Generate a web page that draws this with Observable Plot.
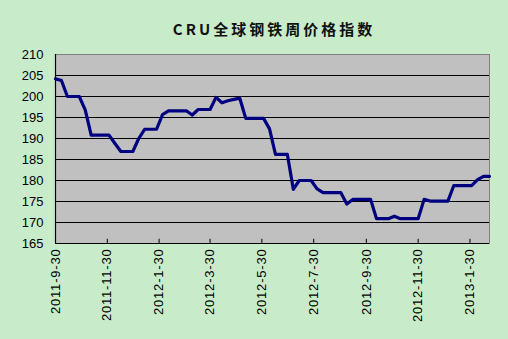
<!DOCTYPE html>
<html><head><meta charset="utf-8">
<script src="https://cdn.jsdelivr.net/npm/d3@7"></script>
<script src="https://cdn.jsdelivr.net/npm/@observablehq/plot@0.6"></script>
<style>
html,body{margin:0;padding:0;background:#c8ecca;}
#wrap{position:relative;width:508px;height:339px;background:#c8ecca;overflow:hidden;}
#title{position:absolute;left:40px;top:0;width:468px;height:40px;line-height:57px;text-align:center;
 font-family:"Noto Sans CJK SC",sans-serif;font-weight:bold;font-size:15px;letter-spacing:3px;color:#111;}
#chart{position:absolute;left:0;top:40px;}
#chart g[aria-label="x-axis tick label"] text{letter-spacing:0.8px;}
</style>
</head><body>
<div id="wrap"><div id="title">CRU全球钢铁周价格指数</div><div id="chart"></div></div>
<script>
const title = "CRU全球钢铁周价格指数";
const startDate = "2011-9-30";
const endDate = "2013-2-22";
const weeklyIndex = [
 204.2,203.8,200.0,200.0,200.0,196.8,190.8,190.8,190.8,190.8,
 188.8,186.9,186.9,186.9,190.0,192.2,192.2,192.2,195.7,196.6,
 196.6,196.6,196.6,195.6,196.9,196.9,196.9,199.8,198.5,199.0,
 199.3,199.6,194.8,194.8,194.8,194.8,192.3,186.2,186.2,186.2,
 177.9,180.0,180.0,180.0,178.0,177.1,177.1,177.1,177.1,174.4,
 175.5,175.5,175.5,175.5,170.9,170.9,170.9,171.5,170.9,170.9,
 170.9,170.9,175.5,175.1,175.1,175.1,175.1,178.8,178.8,178.8,
 178.8,180.2,181.0,181.0
];
const xTickLabels = ["2011-9-30","2011-11-30","2012-1-30","2012-3-30","2012-5-30","2012-7-30","2012-9-30","2012-11-30","2013-1-30"];
const yTicks = [165,170,175,180,185,190,195,200,205,210];

const parse = s => { const [y,m,d] = s.split("-").map(Number); return new Date(Date.UTC(y, m-1, d)); };
const fmt = d => `${d.getUTCFullYear()}-${d.getUTCMonth()+1}-${d.getUTCDate()}`;
const start = parse(startDate);
const data = weeklyIndex.map((v,i) => ({date: d3.utcDay.offset(start, 7*i), value: v}));
const xTicks = xTickLabels.map(parse);
const grid = yTicks.filter(v => v > 165 && v < 210);

const chart = Plot.plot({
  width: 508, height: 299,
  marginLeft: 55, marginRight: 19, marginTop: 14, marginBottom: 96,
  style: {background: "transparent", fontFamily: "'Liberation Sans', Arial, sans-serif", fontSize: "13px", color: "#000"},
  x: {type: "utc", domain: [start, parse(endDate)]},
  y: {domain: [165, 210]},
  marks: [
    Plot.frame({fill: "#c0c0c0", stroke: "#808080"}),
    Plot.ruleY(grid, {stroke: "#000", strokeWidth: 1.2}),
    Plot.ruleY([165], {stroke: "#000", strokeWidth: 1.2}),
    Plot.ruleX([start], {stroke: "#000", strokeWidth: 1.2}),
    Plot.ruleX(xTicks, {y1: 165, y2: 166, stroke: "#000"}),
    Plot.line(data, {x: "date", y: "value", stroke: "#000080", strokeWidth: 3.2, strokeLinejoin: "round"}),
    Plot.axisY({ticks: yTicks, tickSize: 0, tickPadding: 12, label: null}),
    Plot.axisX({ticks: xTicks, tickFormat: fmt, tickRotate: -90, tickSize: 0, tickPadding: 5, label: null})
  ]
});
document.getElementById("chart").appendChild(chart);
</script>
</body></html>
